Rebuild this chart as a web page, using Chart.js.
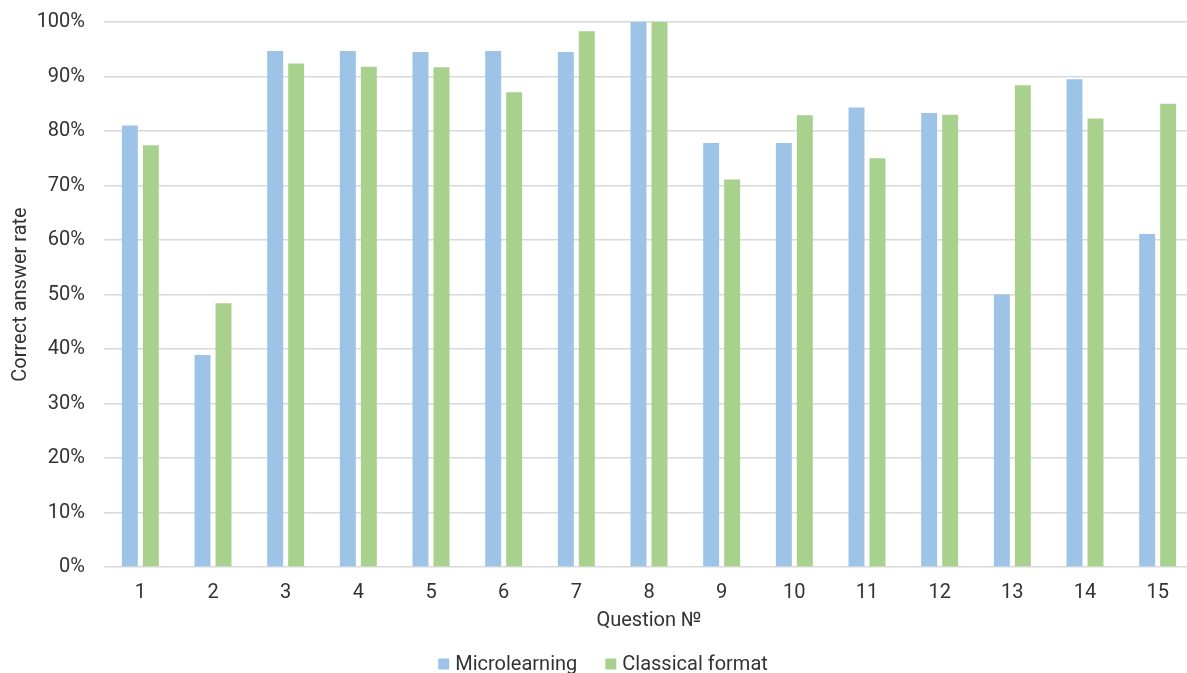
<!DOCTYPE html>
<html>
<head>
<meta charset="utf-8">
<title>Correct answer rate by question</title>
<script src="https://cdn.jsdelivr.net/npm/chart.js@4/dist/chart.umd.min.js"></script>
<style>
  html, body { margin: 0; padding: 0; background: #ffffff; overflow: hidden; }
  #wrap { position: absolute; left: 0; top: 0; width: 1206px; height: 690px; }
</style>
</head>
<body>
<div id="wrap"><canvas id="chart" width="1206" height="690"></canvas></div>
<script>
// Question numbers along the x axis
const questions = ['1', '2', '3', '4', '5', '6', '7', '8', '9', '10', '11', '12', '13', '14', '15'];

// Share of correct answers, in percent
const microlearning = [81.0, 38.9, 94.7, 94.7, 94.5, 94.7, 94.5, 100, 77.8, 77.8, 84.3, 83.3, 50.0, 89.5, 61.1];
const classicalFormat = [77.4, 48.4, 92.4, 91.8, 91.7, 87.1, 98.3, 100, 71.1, 82.9, 75.0, 83.0, 88.4, 82.3, 85.0];

// Y axis tick values
const yTicks = [0, 10, 20, 30, 40, 50, 60, 70, 80, 90, 100];

const seriesNames = ['Microlearning', 'Classical format'];
const seriesColors = ['#9DC3E6', '#A9D18E'];

const FONT = 'Roboto, "Noto Sans", sans-serif';
const TEXT = '#333333';

// Bottom legend: small square swatch with its label, centred on the canvas
const bottomLegend = {
  id: 'bottomLegend',
  afterDraw(chart) {
    const ctx = chart.ctx;
    const box = 11, gap = 6, spacing = 28, cy = 664;
    ctx.save();
    ctx.font = '20px ' + FONT;
    ctx.textBaseline = 'middle';
    const items = chart.data.datasets.map(ds => ({
      text: ds.label, color: ds.backgroundColor, w: ctx.measureText(ds.label).width
    }));
    let total = 0;
    items.forEach((it, i) => { total += box + gap + it.w + (i ? spacing : 0); });
    let x = chart.width / 2 - total / 2;
    items.forEach((it, i) => {
      if (i) x += spacing;
      ctx.fillStyle = it.color;
      ctx.fillRect(x, cy - box / 2, box, box);
      x += box + gap;
      ctx.fillStyle = TEXT;
      ctx.fillText(it.text, x, cy + 1);
      x += it.w;
    });
    ctx.restore();
  }
};

new Chart(document.getElementById('chart'), {
  type: 'bar',
  data: {
    labels: questions,
    datasets: [
      { label: seriesNames[0], data: microlearning, backgroundColor: seriesColors[0] },
      { label: seriesNames[1], data: classicalFormat, backgroundColor: seriesColors[1] }
    ]
  },
  options: {
    responsive: false,
    animation: false,
    devicePixelRatio: 1,
    layout: { padding: { top: 22, right: 12, bottom: 57, left: 0 } },
    datasets: { bar: { categoryPercentage: 0.578, barPercentage: 0.76 } },
    plugins: {
      legend: { display: false },
      tooltip: { enabled: false }
    },
    scales: {
      x: {
        grid: { display: false },
        border: { display: false },
        ticks: { color: TEXT, font: { family: FONT, size: 20 }, padding: 6, maxRotation: 0 },
        title: {
          display: true, text: 'Question №', color: TEXT,
          font: { family: FONT, size: 20 }, padding: { top: 0, bottom: 0 }
        },
        afterFit(scale) { scale.height = 66; }
      },
      y: {
        min: 0, max: 100,
        afterBuildTicks(scale) { scale.ticks = yTicks.map(v => ({ value: v })); },
        grid: { color: '#D9D9D9', lineWidth: 1.5, drawTicks: false },
        border: { display: false },
        ticks: {
          color: TEXT, font: { family: FONT, size: 20 }, padding: 19,
          callback: v => v + '%'
        },
        title: {
          display: true, text: 'Correct answer rate', color: TEXT,
          font: { family: FONT, size: 20 }, padding: { top: 9, bottom: 0 }
        },
        afterFit(scale) {
          scale.width = 104;
          scale.paddingTop = 0;
          scale.paddingBottom = 0;
        }
      }
    }
  },
  plugins: [bottomLegend]
});
</script>
</body>
</html>
